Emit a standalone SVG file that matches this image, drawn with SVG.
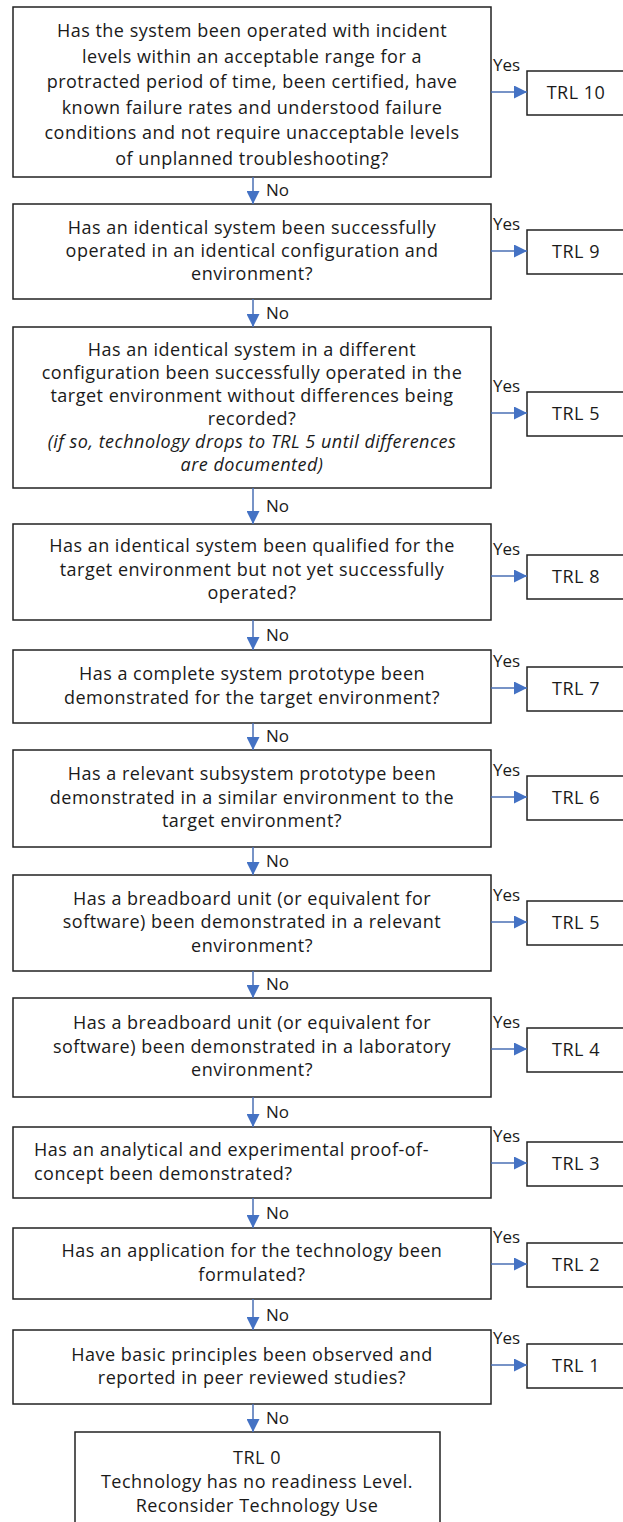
<svg xmlns="http://www.w3.org/2000/svg" width="623" height="1522" viewBox="0 0 623 1522">
  <style>
    .box { fill: #ffffff; stroke: #222222; stroke-width: 1.5; }
    .q { font-family: "Open Sans", "Noto Sans", sans-serif; font-size: 18px; letter-spacing: 0.5px; fill: #1a1a1a; text-anchor: middle; }
    .ql { font-family: "Open Sans", "Noto Sans", sans-serif; font-size: 18px; letter-spacing: 0.5px; fill: #1a1a1a; text-anchor: start; }
    .it { font-style: italic; }
    .lbl { font-family: "Open Sans", "Noto Sans", sans-serif; font-size: 17px; fill: #1a1a1a; }
    .flow { stroke: #4a6fb5; stroke-width: 1.5; fill: none; marker-end: url(#head); }
  </style>
  <defs>
    <marker id="head" markerUnits="userSpaceOnUse" markerWidth="13" markerHeight="13" refX="13" refY="6.5" orient="auto">
      <path d="M0,0 L13,6.5 L0,13 Z" fill="#4472c4"/>
    </marker>
  </defs>
  <rect width="623" height="1522" fill="#ffffff"/>

  <!-- question boxes -->
  <g id="q10">
    <rect class="box" x="13" y="7" width="478" height="170"/>
    <text class="q" x="252" y="37">Has the system been operated with incident</text>
    <text class="q" x="252" y="63">levels within an acceptable range for a</text>
    <text class="q" x="252" y="88">protracted period of time, been certified, have</text>
    <text class="q" x="252" y="114">known failure rates and understood failure</text>
    <text class="q" x="252" y="139">conditions and not require unacceptable levels</text>
    <text class="q" x="252" y="165">of unplanned troubleshooting?</text>
  </g>
  <g id="q9">
    <rect class="box" x="13" y="204" width="478" height="95"/>
    <text class="q" x="252" y="234">Has an identical system been successfully</text>
    <text class="q" x="252" y="257">operated in an identical configuration and</text>
    <text class="q" x="252" y="280">environment?</text>
  </g>
  <g id="q5a">
    <rect class="box" x="13" y="327" width="478" height="161"/>
    <text class="q" x="252" y="356">Has an identical system in a different</text>
    <text class="q" x="252" y="379">configuration been successfully operated in the</text>
    <text class="q" x="252" y="402">target environment without differences being</text>
    <text class="q" x="252" y="425">recorded?</text>
    <text class="q it" x="252" y="448">(if so, technology drops to TRL 5 until differences</text>
    <text class="q it" x="252" y="471">are documented)</text>
  </g>
  <g id="q8">
    <rect class="box" x="13" y="524" width="478" height="96"/>
    <text class="q" x="252" y="552">Has an identical system been qualified for the</text>
    <text class="q" x="252" y="576">target environment but not yet successfully</text>
    <text class="q" x="252" y="599">operated?</text>
  </g>
  <g id="q7">
    <rect class="box" x="13" y="650" width="478" height="73"/>
    <text class="q" x="252" y="680">Has a complete system prototype been</text>
    <text class="q" x="252" y="704">demonstrated for the target environment?</text>
  </g>
  <g id="q6">
    <rect class="box" x="13" y="750" width="478" height="97"/>
    <text class="q" x="252" y="780">Has a relevant subsystem prototype been</text>
    <text class="q" x="252" y="804">demonstrated in a similar environment to the</text>
    <text class="q" x="252" y="827">target environment?</text>
  </g>
  <g id="q5">
    <rect class="box" x="13" y="875" width="478" height="96"/>
    <text class="q" x="252" y="905">Has a breadboard unit (or equivalent for</text>
    <text class="q" x="252" y="928">software) been demonstrated in a relevant</text>
    <text class="q" x="252" y="952">environment?</text>
  </g>
  <g id="q4">
    <rect class="box" x="13" y="998" width="478" height="99"/>
    <text class="q" x="252" y="1029">Has a breadboard unit (or equivalent for</text>
    <text class="q" x="252" y="1053">software) been demonstrated in a laboratory</text>
    <text class="q" x="252" y="1076">environment?</text>
  </g>
  <g id="q3">
    <rect class="box" x="13" y="1127" width="478" height="71"/>
    <text class="ql" x="34" y="1156">Has an analytical and experimental proof-of-</text>
    <text class="ql" x="34" y="1180">concept been demonstrated?</text>
  </g>
  <g id="q2">
    <rect class="box" x="13" y="1228" width="478" height="71"/>
    <text class="q" x="252" y="1257">Has an application for the technology been</text>
    <text class="q" x="252" y="1281">formulated?</text>
  </g>
  <g id="q1">
    <rect class="box" x="13" y="1330" width="478" height="74"/>
    <text class="q" x="252" y="1361">Have basic principles been observed and</text>
    <text class="q" x="252" y="1384">reported in peer reviewed studies?</text>
  </g>
  <g id="trl0">
    <rect class="box" x="75" y="1432" width="365" height="110"/>
    <text class="q" x="257" y="1464">TRL 0</text>
    <text class="q" x="257" y="1488">Technology has no readiness Level.</text>
    <text class="q" x="257" y="1512">Reconsider Technology Use</text>
  </g>

  <!-- outcome boxes -->
  <g id="r10"><rect class="box" x="527" y="71" width="110" height="44"/><text class="q" x="576" y="99">TRL 10</text></g>
  <g id="r9"><rect class="box" x="527" y="230" width="110" height="44"/><text class="q" x="576" y="258">TRL 9</text></g>
  <g id="r5a"><rect class="box" x="527" y="392" width="110" height="44"/><text class="q" x="576" y="420">TRL 5</text></g>
  <g id="r8"><rect class="box" x="527" y="555" width="110" height="44"/><text class="q" x="576" y="583">TRL 8</text></g>
  <g id="r7"><rect class="box" x="527" y="667" width="110" height="44"/><text class="q" x="576" y="695">TRL 7</text></g>
  <g id="r6"><rect class="box" x="527" y="776" width="110" height="44"/><text class="q" x="576" y="804">TRL 6</text></g>
  <g id="r5"><rect class="box" x="527" y="901" width="110" height="44"/><text class="q" x="576" y="929">TRL 5</text></g>
  <g id="r4"><rect class="box" x="527" y="1028" width="110" height="44"/><text class="q" x="576" y="1056">TRL 4</text></g>
  <g id="r3"><rect class="box" x="527" y="1142" width="110" height="44"/><text class="q" x="576" y="1170">TRL 3</text></g>
  <g id="r2"><rect class="box" x="527" y="1243" width="110" height="44"/><text class="q" x="576" y="1271">TRL 2</text></g>
  <g id="r1"><rect class="box" x="527" y="1344" width="110" height="44"/><text class="q" x="576" y="1372">TRL 1</text></g>

  <!-- connectors -->
  <g id="connectors">
    <line class="flow" x1="491" y1="92" x2="527" y2="92"/>
    <line class="flow" x1="491" y1="251" x2="527" y2="251"/>
    <line class="flow" x1="491" y1="413" x2="527" y2="413"/>
    <line class="flow" x1="491" y1="576" x2="527" y2="576"/>
    <line class="flow" x1="491" y1="688" x2="527" y2="688"/>
    <line class="flow" x1="491" y1="797" x2="527" y2="797"/>
    <line class="flow" x1="491" y1="922" x2="527" y2="922"/>
    <line class="flow" x1="491" y1="1049" x2="527" y2="1049"/>
    <line class="flow" x1="491" y1="1163" x2="527" y2="1163"/>
    <line class="flow" x1="491" y1="1264" x2="527" y2="1264"/>
    <line class="flow" x1="491" y1="1365" x2="527" y2="1365"/>

    <line class="flow" x1="253" y1="177" x2="253" y2="204"/>
    <line class="flow" x1="253" y1="299" x2="253" y2="327"/>
    <line class="flow" x1="253" y1="488" x2="253" y2="524"/>
    <line class="flow" x1="253" y1="620" x2="253" y2="650"/>
    <line class="flow" x1="253" y1="723" x2="253" y2="750"/>
    <line class="flow" x1="253" y1="847" x2="253" y2="875"/>
    <line class="flow" x1="253" y1="971" x2="253" y2="998"/>
    <line class="flow" x1="253" y1="1097" x2="253" y2="1127"/>
    <line class="flow" x1="253" y1="1198" x2="253" y2="1228"/>
    <line class="flow" x1="253" y1="1299" x2="253" y2="1330"/>
    <line class="flow" x1="253" y1="1404" x2="253" y2="1432"/>

    <text class="lbl" x="493" y="71">Yes</text>
    <text class="lbl" x="493" y="230">Yes</text>
    <text class="lbl" x="493" y="392">Yes</text>
    <text class="lbl" x="493" y="555">Yes</text>
    <text class="lbl" x="493" y="667">Yes</text>
    <text class="lbl" x="493" y="776">Yes</text>
    <text class="lbl" x="493" y="901">Yes</text>
    <text class="lbl" x="493" y="1028">Yes</text>
    <text class="lbl" x="493" y="1142">Yes</text>
    <text class="lbl" x="493" y="1243">Yes</text>
    <text class="lbl" x="493" y="1344">Yes</text>

    <text class="lbl" x="266" y="196">No</text>
    <text class="lbl" x="266" y="319">No</text>
    <text class="lbl" x="266" y="512">No</text>
    <text class="lbl" x="266" y="641">No</text>
    <text class="lbl" x="266" y="742">No</text>
    <text class="lbl" x="266" y="867">No</text>
    <text class="lbl" x="266" y="990">No</text>
    <text class="lbl" x="266" y="1118">No</text>
    <text class="lbl" x="266" y="1219">No</text>
    <text class="lbl" x="266" y="1321">No</text>
    <text class="lbl" x="266" y="1424">No</text>
  </g>
</svg>
